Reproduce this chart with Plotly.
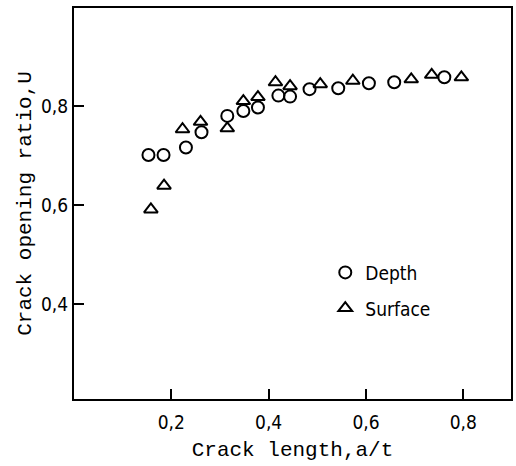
import plotly.graph_objects as go

depth_x = [0.153, 0.184, 0.230, 0.262, 0.315, 0.348, 0.378, 0.420, 0.444, 0.484, 0.543, 0.606, 0.658, 0.761]
depth_y = [0.701, 0.701, 0.716, 0.747, 0.780, 0.790, 0.797, 0.821, 0.819, 0.834, 0.836, 0.846, 0.848, 0.858]

surf_x = [0.158, 0.185, 0.223, 0.260, 0.315, 0.348, 0.378, 0.414, 0.444, 0.506, 0.573, 0.693, 0.735, 0.796]
surf_y = [0.591, 0.639, 0.753, 0.768, 0.755, 0.810, 0.818, 0.848, 0.840, 0.844, 0.851, 0.854, 0.863, 0.858]

x_ticks = [0.2, 0.4, 0.6, 0.8]
x_tick_labels = ["0,2", "0,4", "0,6", "0,8"]
y_ticks = [0.4, 0.6, 0.8]
y_tick_labels = ["0,4", "0,6", "0,8"]

tick_font = dict(family="DejaVu Sans Condensed, Liberation Sans, sans-serif", size=19, color="black")
title_font = dict(family="Liberation Mono, Courier New, monospace", size=21, color="black")

fig = go.Figure()
fig.add_trace(go.Scatter(
    x=depth_x, y=depth_y, mode="markers", name="Depth", legendgroup="a",
    marker=dict(symbol="circle-open", size=12, color="black", line=dict(width=2, color="black")),
))
fig.add_trace(go.Scatter(
    x=surf_x, y=surf_y, mode="markers", name="Surface", legendgroup="b",
    marker=dict(symbol="triangle-up-open", size=12, color="black", line=dict(width=2, color="black")),
))

fig.update_layout(
    width=516, height=466,
    margin=dict(l=74, r=3, t=8, b=67),
    paper_bgcolor="white", plot_bgcolor="white",
    showlegend=True,
    legend=dict(x=0.575, y=0.372, xanchor="left", yanchor="top",
                font=dict(family="DejaVu Sans Condensed, Liberation Sans, sans-serif", size=19, color="black"),
                bgcolor="rgba(0,0,0,0)", traceorder="grouped", tracegroupgap=8),
    xaxis=dict(range=[0, 0.898], tickvals=x_ticks, ticktext=x_tick_labels,
               ticks="inside", ticklen=10, tickwidth=1.5, tickcolor="black",
               showline=True, linecolor="black", linewidth=2, mirror=True,
               showgrid=False, zeroline=False, tickfont=tick_font,
               ticklabelstandoff=5,
               title=dict(text="Crack length,a/t", font=title_font, standoff=10)),
    yaxis=dict(range=[0.208, 0.998], tickvals=y_ticks, ticktext=y_tick_labels,
               ticks="inside", ticklen=10, tickwidth=1.5, tickcolor="black",
               showline=True, linecolor="black", linewidth=2, mirror=True,
               showgrid=False, zeroline=False, tickfont=tick_font,
               title=dict(text="Crack opening ratio,U", font=title_font, standoff=4)),
)

fig.write_html("out.html")
